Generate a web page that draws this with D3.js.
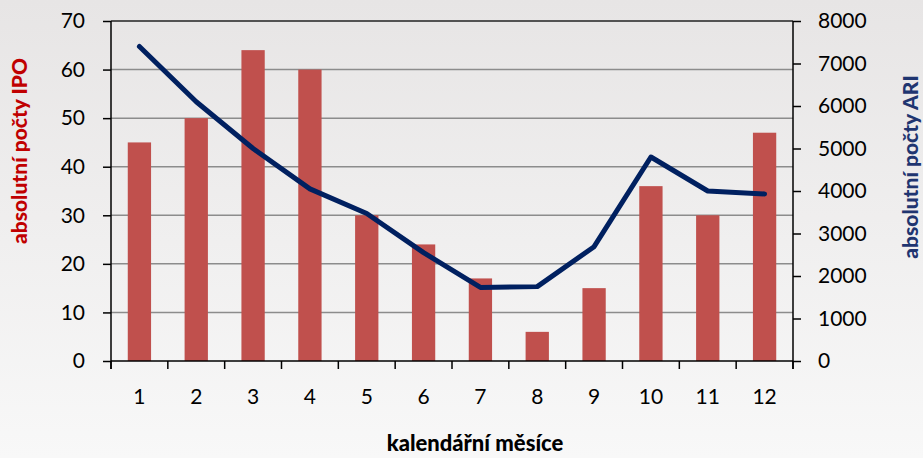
<!DOCTYPE html>
<html>
<head>
<meta charset="utf-8">
<script src="https://cdn.jsdelivr.net/npm/d3@7"></script>
<style>
  body { margin: 0; }
  svg { display: block; font-family: Lato, "Open Sans", sans-serif; }
</style>
</head>
<body>
<div id="chart"></div>
<script>
const months = [1, 2, 3, 4, 5, 6, 7, 8, 9, 10, 11, 12];
const ipoCounts = [45, 50, 64, 60, 30, 24, 17, 6, 15, 36, 30, 47];
const ariCounts = [7400, 6100, 5000, 4050, 3470, 2550, 1730, 1750, 2690, 4800, 4000, 3930];
const leftTicks = [0, 10, 20, 30, 40, 50, 60, 70];
const rightTicks = [0, 1000, 2000, 3000, 4000, 5000, 6000, 7000, 8000];

const W = 923, H = 458;
const margin = { top: 21, right: 130, bottom: 97, left: 111 };
const width = W - margin.left - margin.right,
      height = H - margin.top - margin.bottom;

const svg = d3.select("#chart").append("svg")
    .attr("width", W)
    .attr("height", H);

const grad = svg.append("defs").append("linearGradient")
    .attr("id", "bg")
    .attr("x1", 0).attr("y1", 0).attr("x2", 0).attr("y2", 1);
grad.append("stop").attr("offset", "0%").attr("stop-color", "#e7e5e5");
grad.append("stop").attr("offset", "100%").attr("stop-color", "#f8f8f8");

svg.append("rect")
    .attr("width", W).attr("height", H)
    .attr("fill", "url(#bg)");

const g = svg.append("g")
    .attr("transform", `translate(${margin.left},${margin.top})`);

const x = d3.scaleBand()
    .domain(months)
    .range([0, width]);

const yL = d3.scaleLinear().domain([0, 70]).range([height, 0]);
const yR = d3.scaleLinear().domain([0, 8000]).range([height, 0]);

// gridlines
g.append("g")
  .selectAll("line")
  .data(leftTicks.slice(1, -1))
  .enter().append("line")
    .attr("x1", 0)
    .attr("x2", width)
    .attr("y1", d => yL(d))
    .attr("y2", d => yL(d))
    .attr("stroke", "#8c8c8c")
    .attr("stroke-width", 1.5);

g.append("line")
    .attr("x1", 0).attr("x2", width)
    .attr("y1", yL(70)).attr("y2", yL(70))
    .attr("stroke", "#222")
    .attr("stroke-width", 1.5);

// bars
const barW = x.bandwidth() * 0.41;
g.append("g")
  .selectAll("rect")
  .data(months)
  .enter().append("rect")
    .attr("x", (d) => x(d) + (x.bandwidth() - barW) / 2)
    .attr("y", (d, i) => yL(ipoCounts[i]))
    .attr("width", barW)
    .attr("height", (d, i) => height - yL(ipoCounts[i]))
    .attr("fill", "#c0504d");

// ARI line
const line = d3.line()
    .x((d, i) => x(months[i]) + x.bandwidth() / 2)
    .y(d => yR(d));

g.append("path")
    .datum(ariCounts)
    .attr("fill", "none")
    .attr("stroke", "#002060")
    .attr("stroke-width", 5)
    .attr("stroke-linejoin", "round")
    .attr("stroke-linecap", "round")
    .attr("d", line);

// axes
const axisL = g.append("g")
    .call(d3.axisLeft(yL).tickValues(leftTicks).tickSize(8).tickPadding(18));
const axisR = g.append("g")
    .attr("transform", `translate(${width},0)`)
    .call(d3.axisRight(yR).tickValues(rightTicks).tickFormat(d3.format("d")).tickSize(8).tickPadding(17));

const xAxis = g.append("g")
    .attr("transform", `translate(0,${height})`);
xAxis.append("path")
    .attr("d", `M0,0H${width}`)
    .attr("stroke", "#000")
    .attr("stroke-width", 1.5);
xAxis.selectAll(".tk")
  .data(months.concat([null]))
  .enter().append("line")
    .attr("x1", (d, i) => i * x.step())
    .attr("x2", (d, i) => i * x.step())
    .attr("y1", 0)
    .attr("y2", 8)
    .attr("stroke", "#000")
    .attr("stroke-width", 1.5);
xAxis.selectAll(".lbl")
  .data(months)
  .enter().append("text")
    .attr("x", d => x(d) + x.bandwidth() / 2)
    .attr("y", 43)
    .attr("text-anchor", "middle")
    .attr("font-size", 21)
    .attr("fill", "#000")
    .text(d => d);

[axisL, axisR].forEach(a => {
  a.select(".domain").attr("stroke", "#000").attr("stroke-width", 1.5);
  a.selectAll(".tick line").attr("stroke", "#000").attr("stroke-width", 1.5);
  a.selectAll(".tick text")
    .attr("font-size", 21)
    .attr("font-family", "Lato, 'Open Sans', sans-serif")
    .attr("fill", "#000");
});
axisL.select(".domain").attr("d", `M0,0V${height + 8}`);
axisR.select(".domain").attr("d", `M0,0V${height + 8}`);

// titles
svg.append("text")
    .attr("transform", `translate(27,151) rotate(-90)`)
    .attr("text-anchor", "middle")
    .attr("font-size", 21)
    .attr("font-weight", 900)
    .attr("fill", "#c00000")
    .text("absolutní počty IPO");

svg.append("text")
    .attr("transform", `translate(918,167) rotate(-90)`)
    .attr("text-anchor", "middle")
    .attr("font-size", 21)
    .attr("font-weight", 900)
    .attr("fill", "#1f3570")
    .text("absolutní počty ARI");

svg.append("text")
    .attr("x", 475)
    .attr("y", 451)
    .attr("text-anchor", "middle")
    .attr("font-size", 22)
    .attr("font-weight", 900)
    .attr("fill", "#000")
    .text("kalendářní měsíce");
</script>
</body>
</html>
